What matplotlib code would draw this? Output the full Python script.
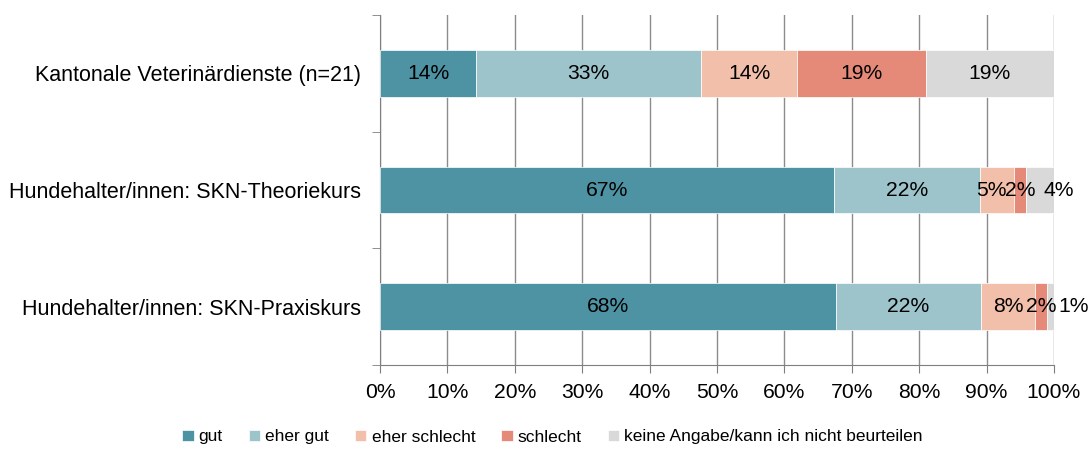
import numpy as np
import matplotlib.pyplot as plt

plt.rcParams['font.family'] = ['Liberation Sans', 'DejaVu Sans']

categories = ['Kantonale Veterinärdienste (n=21)',
              'Hundehalter/innen: SKN-Theoriekurs',
              'Hundehalter/innen: SKN-Praxiskurs']
series = ['gut', 'eher gut', 'eher schlecht', 'schlecht',
          'keine Angabe/kann ich nicht beurteilen']
gut = [14.3, 67.3, 67.6]
eher_gut = [33.3, 21.7, 21.6]
eher_schlecht = [14.3, 5.1, 8.0]
schlecht = [19.05, 1.8, 1.8]
keine_angabe = [19.05, 4.1, 1.0]
colors = ['#4E93A3', '#9DC3CB', '#F2BFAA', '#E58A78', '#D9D9D9']

values = [gut, eher_gut, eher_schlecht, schlecht, keine_angabe]

# label nudges (in %) for the narrow segments, like in the original
nudge = {(1, 2): -0.9, (1, 4): 2.8, (2, 4): 3.4}

fig = plt.figure(figsize=(10.92, 4.5), dpi=100)
ax = fig.add_axes([380 / 1092, 1 - 365 / 450, 674 / 1092, 350 / 450])

y = np.arange(len(categories))
left = np.zeros(len(categories))
for j, (name, vals, col) in enumerate(zip(series, values, colors)):
    vals = np.array(vals)
    ax.barh(y, vals, left=left, height=0.4, color=col, label=name,
            edgecolor='white', linewidth=0.5, zorder=3)
    for i, (l, v) in enumerate(zip(left, vals)):
        ax.text(l + v / 2 + nudge.get((i, j), 0), y[i], f'{v:.0f}%',
                ha='center', va='center', fontsize=15.2, color='black', zorder=4)
    left += vals

ax.set_xlim(0, 100)
ax.set_ylim(2.5, -0.5)
ax.set_xticks(np.arange(0, 101, 10))
ax.set_xticklabels([f'{t}%' for t in range(0, 101, 10)], fontsize=15.2)
ax.xaxis.grid(True, color='#8C8C8C', linewidth=1, zorder=0)
ax.set_yticks(y)
ax.set_yticklabels(categories, fontsize=15.5)
ax.set_yticks([-0.5, 0.5, 1.5, 2.5], minor=True)
ax.tick_params(axis='y', which='major', length=0, pad=14)
ax.tick_params(axis='y', which='minor', length=6, color='#7F7F7F', direction='out')
ax.tick_params(axis='x', length=6, color='#7F7F7F', direction='out', pad=7)
for s in ['top', 'right']:
    ax.spines[s].set_visible(False)
ax.spines['left'].set_color('#7F7F7F')
ax.spines['bottom'].set_color('#7F7F7F')

fig.legend(loc='center', bbox_to_anchor=(0.506, 1 - 437 / 450), ncol=5,
           frameon=False, fontsize=12.5, handlelength=0.65, handleheight=0.65,
           handletextpad=0.3, columnspacing=1.5)

fig.savefig('out.png', dpi=100)
